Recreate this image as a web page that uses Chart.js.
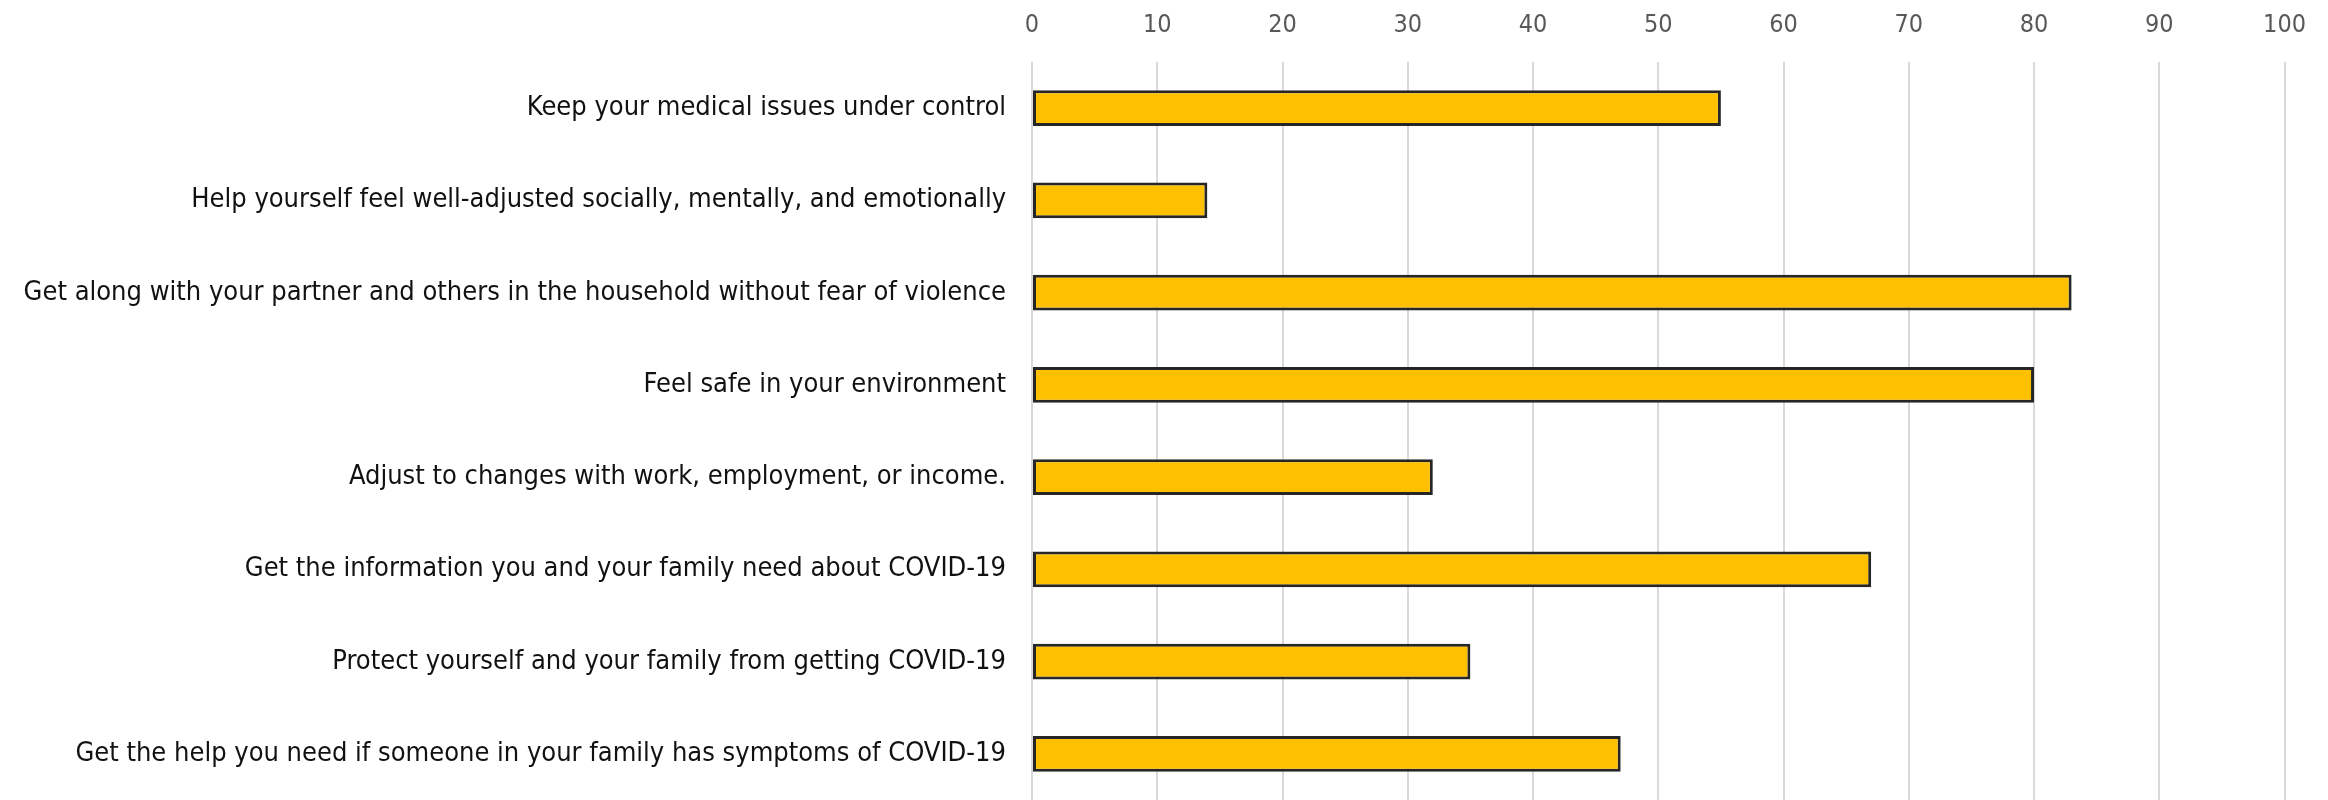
<!DOCTYPE html>
<html>
<head>
<meta charset="utf-8">
<script src="https://cdn.jsdelivr.net/npm/chart.js"></script>
<style>
  html, body { margin: 0; padding: 0; background: #fff; }
  #wrap { width: 2328px; height: 800px; position: relative; }
</style>
</head>
<body>
<div id="wrap"><canvas id="needsChart"></canvas></div>
<script>
// Survey items and share of respondents (%)
const needLabels = [
  "Keep your medical issues under control",
  "Help yourself feel well-adjusted socially, mentally, and emotionally",
  "Get along with your partner and others in the household without fear of violence",
  "Feel safe in your environment",
  "Adjust to changes with work, employment, or income.",
  "Get the information you and your family need about COVID-19",
  "Protect yourself and your family from getting COVID-19",
  "Get the help you need if someone in your family has symptoms of COVID-19"
];
const needValues = [55, 14, 83, 80, 32, 67, 35, 47];
const axisMin = 0;
const axisMax = 100;
const axisStep = 10;

const FONT = "'Liberation Sans Narrow', 'DejaVu Sans Condensed', Calibri, sans-serif";

function initNeedsChart() {
  const ctx = document.getElementById("needsChart");
  new Chart(ctx, {
    type: "bar",
    data: {
      labels: needLabels,
      datasets: [{
        data: needValues,
        backgroundColor: "#FFC000",
        borderColor: "#262626",
        borderWidth: 3,
        borderSkipped: false,
        barPercentage: 0.39,
        categoryPercentage: 1.0
      }]
    },
    options: {
      indexAxis: "y",
      responsive: true,
      maintainAspectRatio: false,
      animation: false,
      layout: { padding: { left: 0, right: 37, top: 0, bottom: -4 } },
      plugins: {
        legend: { display: false },
        tooltip: { enabled: false }
      },
      scales: {
        x: {
          position: "top",
          min: axisMin,
          max: axisMax,
          ticks: {
            stepSize: axisStep,
            color: "#595959",
            font: { family: FONT, size: 25 },
            padding: 22
          },
          grid: { color: "#d9d9d9", lineWidth: 2, drawTicks: false },
          border: { display: false },
          afterFit: (scale) => { scale.height = 62; }
        },
        y: {
          ticks: {
            color: "#111111",
            font: { family: FONT, size: 27 },
            padding: 18
          },
          grid: { display: false },
          border: { display: false },
          afterFit: (scale) => {
            scale.width = 1032;
            // let the plot run to the bottom edge
            scale.paddingTop = 0;
            scale.paddingBottom = 0;
          }
        }
      }
    }
  });
}

document.addEventListener("DOMContentLoaded", initNeedsChart);
</script>
</body>
</html>
